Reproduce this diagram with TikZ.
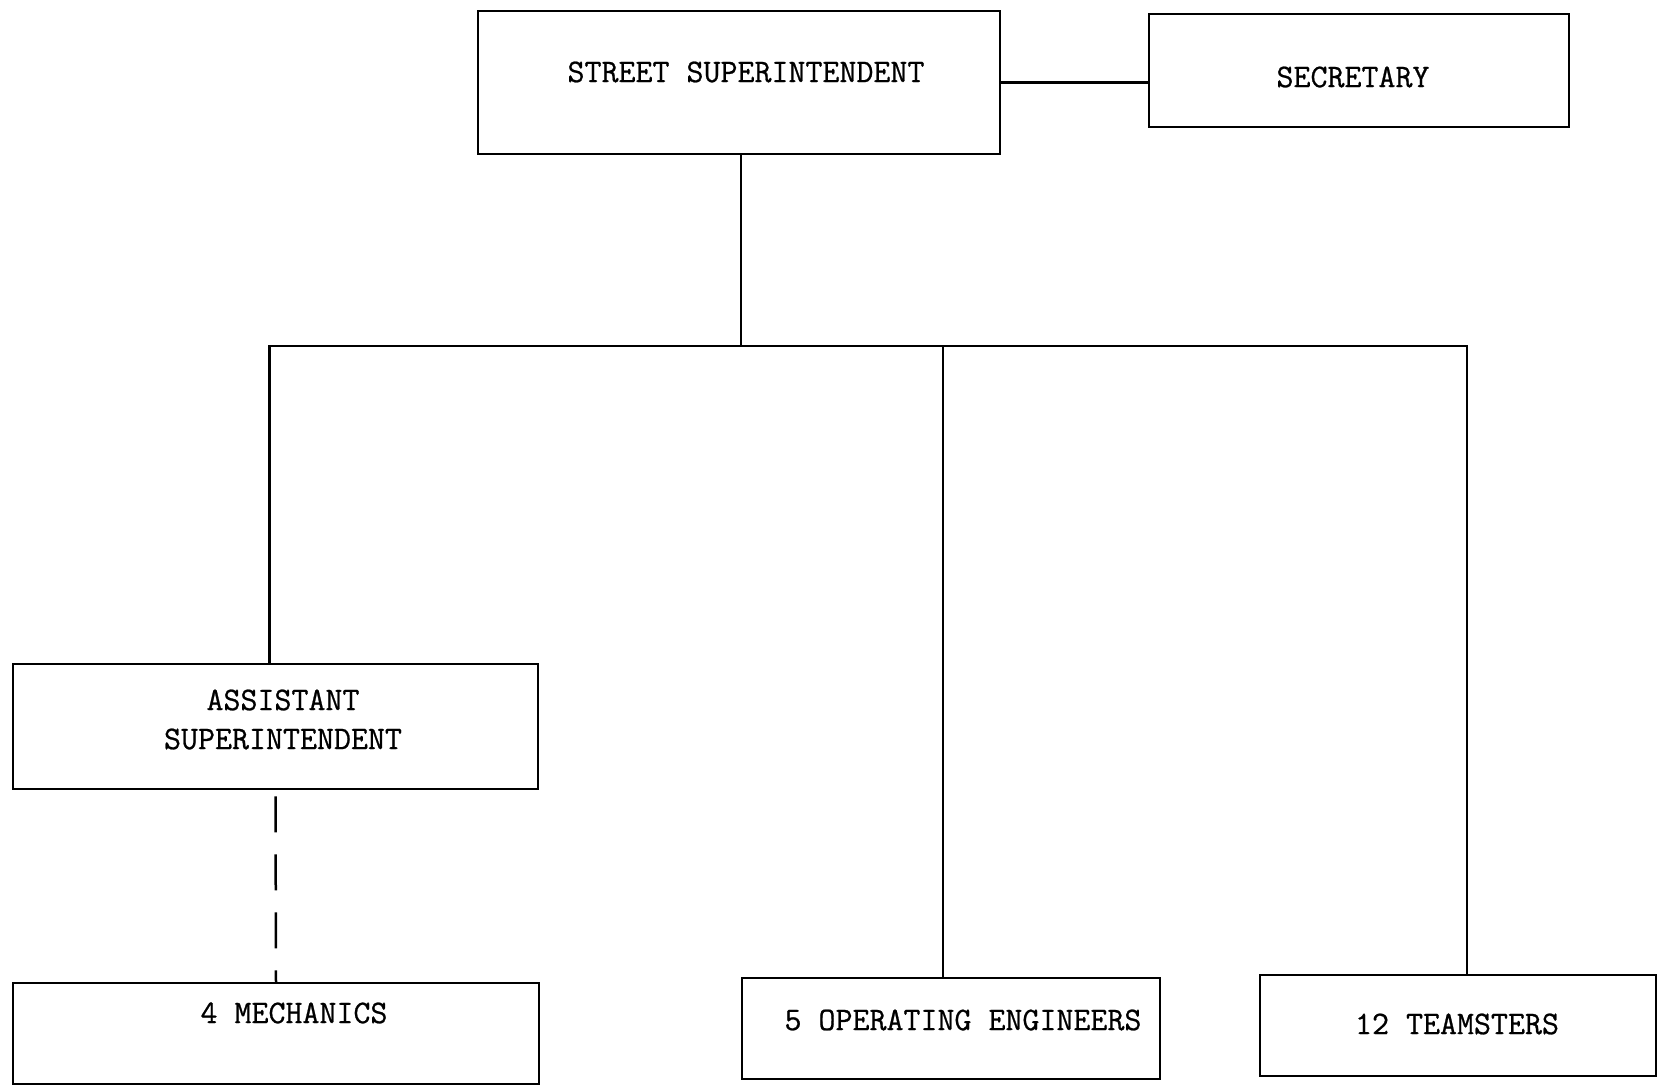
\documentclass[tikz,border=0pt]{standalone}
\usepackage{fontspec}
\newfontfamily\typewriter{Latin Modern Mono}[FakeBold=0.7]
\begin{document}
\begin{tikzpicture}[x=1pt,y=-1pt,
  box/.style={draw, line width=2.5pt, rectangle, inner sep=0pt},
  lbl/.style={font=\typewriter\fontsize{33}{39}\selectfont, align=center, inner sep=0pt},
  link/.style={line width=2.5pt}]
  % page frame
  \path[use as bounding box] (0,0) rectangle (1658,1089);

  % boxes
  \node[box, minimum width=522pt, minimum height=143pt] (ss)   at (739,82.5)  {};
  \node[box, minimum width=420pt, minimum height=113pt] (sec)  at (1359,70.5) {};
  \node[box, minimum width=525pt, minimum height=125pt] (asst) at (275.5,726.5) {};
  \node[box, minimum width=526pt, minimum height=101pt] (mech) at (276,1033.5) {};
  \node[box, minimum width=418pt, minimum height=101pt] (oe)   at (951,1028.5) {};
  \node[box, minimum width=396pt, minimum height=101pt] (team) at (1458,1025.5) {};

  % titles
  \node[lbl] (ssT)   at (746,72)    {STREET SUPERINTENDENT};
  \node[lbl] (secT)  at (1353,77)   {SECRETARY};
  \node[lbl] (asstT) at (283,719.5) {ASSISTANT\\SUPERINTENDENT};
  \node[lbl] (mechT) at (294,1013)  {4 MECHANICS};
  \node[lbl] (oeT)   at (963,1020)  {5 OPERATING ENGINEERS};
  \node[lbl] (teamT) at (1457,1024) {12 TEAMSTERS};

  % connectors
  \coordinate (bus) at (741,346);
  \draw[link] (ss.east) -- (ss.east -| sec.west);
  \draw[link] (ss.south -| bus) -- (bus);
  \draw[link] ([xshift=-6pt]asst.north) |- (bus) -| ([xshift=9pt]team.north);
  \draw[link] ([xshift=-8pt]oe.north) -- ([xshift=-8pt]oe.north |- bus);
  \draw[link, dash pattern=on 36pt off 22pt, dash phase=-6pt] (asst.south) -- (mech.north);
\end{tikzpicture}
\end{document}
